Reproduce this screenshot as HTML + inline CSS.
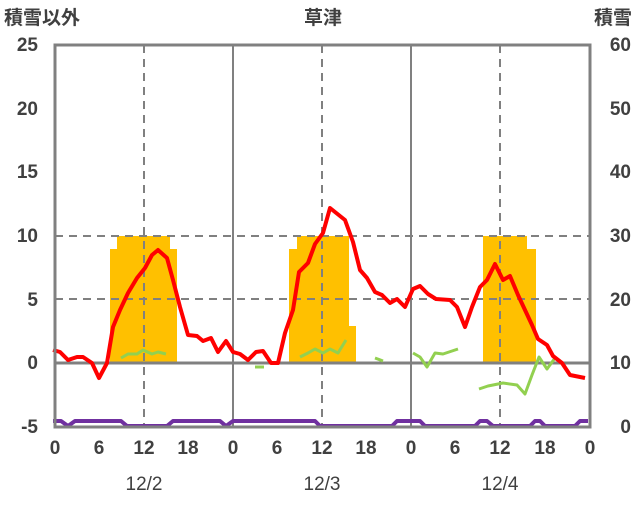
<!DOCTYPE html><html><head><meta charset="utf-8"><style>body{margin:0;background:#fff}svg text{font-family:"Liberation Sans","Noto Sans CJK JP",sans-serif;fill:#404040;font-size:19px;font-weight:bold}svg text.d{font-weight:normal}</style></head><body>
<svg width="636" height="501" viewBox="0 0 636 501" xmlns="http://www.w3.org/2000/svg">
<g fill="#FFC000">
<rect x="110" y="249" width="7" height="114"/><rect x="117" y="236" width="53" height="127"/><rect x="170" y="249" width="7" height="114"/>
<rect x="289" y="249" width="8" height="114"/><rect x="297" y="236" width="52" height="127"/><rect x="349" y="326" width="7" height="37"/>
<rect x="483" y="236" width="44" height="127"/><rect x="527" y="249" width="9" height="114"/>
</g>
<g stroke="#808080" stroke-width="2" stroke-dasharray="8,6" fill="none">
<line x1="55" y1="236" x2="590" y2="236"/><line x1="55" y1="299" x2="590" y2="299"/>
<line x1="144" y1="45" x2="144" y2="427"/><line x1="322" y1="45" x2="322" y2="427"/><line x1="500" y1="45" x2="500" y2="427"/>
</g>
<g stroke="#808080" stroke-width="2"><line x1="233" y1="45" x2="233" y2="427"/><line x1="411" y1="45" x2="411" y2="427"/><line x1="55" y1="363" x2="590" y2="363" stroke-width="3"/></g>
<g fill="none" stroke="#92D050" stroke-width="3" stroke-linejoin="round">
<polyline points="121,358 128,354 137,354 143,350 152,354 158,352 166,354"/>
<polyline points="255,367 264,367"/>
<polyline points="300,357 308,353 315,349 323,353 330,349 338,353 346,340"/>
<polyline points="375,358 383,361"/>
<polyline points="413,353 420,357 427,367 435,353 443,354 458,349"/>
<polyline points="479,389 488,386 503,383 517,385 525,394 532,375 539,357 547,369 555,358"/>
</g>
<polyline fill="none" stroke="#FF0000" stroke-width="4" stroke-linejoin="round" points="53,350 60,352 68,360 77,357 83,357 92,363 99,378 107,363 113,327 120,310 128,293 137,278 145,268 152,255 158,250 167,258 173,280 180,307 188,335 197,336 203,341 211,338 218,352 226,341 233,352 240,354 248,360 256,352 263,351 271,363 278,363 285,333 293,310 299,272 308,263 315,244 323,233 330,208 345,220 353,242 360,270 367,278 375,292 382,295 390,303 397,299 405,307 413,289 420,286 428,294 436,299 450,300 457,307 465,327 472,307 480,287 487,280 495,264 503,280 510,276 518,295 532,325 538,339 547,345 553,356 562,363 570,375 585,378"/>
<polyline fill="none" stroke="#7030A0" stroke-width="4" stroke-linejoin="round" points="53,421 61,421 68,426 75,421 121,421 127,426 167,426 173,421 220,421 226,426 233,421 315,421 320,426 392,426 397,421 420,421 425,426 475,426 480,421 487,421 493,426 530,426 535,421 540,421 545,426 575,426 580,421 588,421"/>
<rect x="55" y="45" width="535" height="382" fill="none" stroke="#808080" stroke-width="3"/>
<text x="4" y="24">積雪以外</text><text x="323" y="24" text-anchor="middle">草津</text><text x="632" y="24" text-anchor="end">積雪</text>
<g text-anchor="end"><text x="38" y="51">25</text><text x="38" y="115">20</text><text x="38" y="178">15</text><text x="38" y="242">10</text><text x="38" y="306">5</text><text x="38" y="369">0</text><text x="38" y="433">-5</text></g>
<g text-anchor="end"><text x="631" y="51">60</text><text x="631" y="115">50</text><text x="631" y="178">40</text><text x="631" y="242">30</text><text x="631" y="306">20</text><text x="631" y="369">10</text><text x="631" y="433">0</text></g>
<g text-anchor="middle"><text x="55" y="454">0</text><text x="99" y="454">6</text><text x="144" y="454">12</text><text x="188" y="454">18</text><text x="233" y="454">0</text><text x="277" y="454">6</text><text x="322" y="454">12</text><text x="366" y="454">18</text><text x="411" y="454">0</text><text x="455" y="454">6</text><text x="500" y="454">12</text><text x="545" y="454">18</text><text x="590" y="454">0</text>
<text class="d" x="144" y="490">12/2</text><text class="d" x="322" y="490">12/3</text><text class="d" x="500" y="490">12/4</text></g>
</svg></body></html>
